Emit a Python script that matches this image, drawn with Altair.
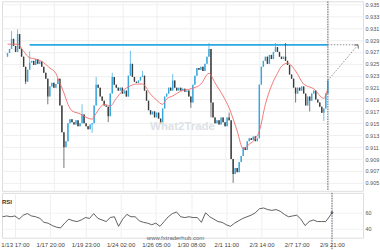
import altair as alt
import pandas as pd

# ---- data ----
closes = [
    0.9268, 0.9275, 0.9292, 0.9280, 0.9270, 0.9300, 0.9275, 0.9262, 0.9245, 0.9220,
    0.9240, 0.9252, 0.9255, 0.9248, 0.9258, 0.9250, 0.9254, 0.9245, 0.9235, 0.9225,
    0.9195, 0.9212, 0.9218, 0.9210, 0.9216, 0.9225, 0.9180, 0.9135, 0.9110, 0.9120,
    0.9150, 0.9157, 0.9152, 0.9148, 0.9155, 0.9145, 0.9150, 0.9165, 0.9150, 0.9145,
    0.9140, 0.9148, 0.9150, 0.9180, 0.9215, 0.9210, 0.9195, 0.9188, 0.9180, 0.9178,
    0.9162, 0.9200, 0.9228, 0.9215, 0.9210, 0.9205, 0.9210, 0.9200, 0.9205, 0.9195,
    0.9230, 0.9250, 0.9228, 0.9220, 0.9218, 0.9222, 0.9228, 0.9230, 0.9205, 0.9188,
    0.9172, 0.9165, 0.9170, 0.9160, 0.9168, 0.9158, 0.9150, 0.9175, 0.9195, 0.9200,
    0.9210, 0.9205, 0.9222, 0.9210, 0.9205, 0.9210, 0.9205, 0.9208, 0.9203, 0.9205,
    0.9195, 0.9185, 0.9215, 0.9230, 0.9243, 0.9240, 0.9245, 0.9238, 0.9250, 0.9262,
    0.9275, 0.9185, 0.9160, 0.9150, 0.9155, 0.9148, 0.9160, 0.9152, 0.9145, 0.9160,
    0.9155, 0.9090, 0.9065, 0.9075, 0.9068, 0.9085, 0.9095, 0.9110, 0.9105, 0.9120,
    0.9125, 0.9122, 0.9128, 0.9120, 0.9125, 0.9215, 0.9245, 0.9255, 0.9262, 0.9250,
    0.9265, 0.9258, 0.9270, 0.9278, 0.9270, 0.9262, 0.9258, 0.9262, 0.9255, 0.9248,
    0.9232, 0.9225, 0.9210, 0.9200, 0.9210, 0.9205, 0.9212, 0.9200, 0.9180, 0.9195,
    0.9188, 0.9200, 0.9205, 0.9190, 0.9185, 0.9178, 0.9168, 0.9175, 0.9200, 0.9222,
]
first_open = 0.9262

spike_idx = [2, 5, 9, 11, 20, 28, 37, 42, 44, 50, 52, 61, 67, 77, 82, 91, 100, 101, 110, 112, 133, 138, 143, 150, 157]
spike_val = [0.9305, 0.9308, 0.9216, 0.9271, 0.9182, 0.9075, 0.9182, 0.9134, 0.9228, 0.9152, 0.9235, 0.9272,
             0.9238, 0.9148, 0.9233, 0.9176, 0.9285, 0.9160, 0.9168, 0.9050, 0.9285, 0.9285, 0.9185, 0.9170, 0.9154]

ma_idx = [0, 5, 8, 11, 14, 17, 19, 21, 24, 25, 28, 30, 32, 36, 38, 42, 44, 48, 51, 54, 57, 61, 64, 67,
          71, 74, 77, 79, 82, 86, 91, 96, 100, 103, 107, 110, 114, 117, 120, 123, 125, 128, 131, 134,
          136, 139, 143, 147, 152, 157, 159]
ma_vals = [0.9283, 0.9283, 0.9271, 0.9260, 0.9258, 0.9254, 0.9249, 0.9243, 0.9234, 0.9226, 0.9201, 0.9182,
           0.9171, 0.9166, 0.9162, 0.9157, 0.9167, 0.9182, 0.9179, 0.9192, 0.9204, 0.9213, 0.9216, 0.9216,
           0.9199, 0.9189, 0.9182, 0.9191, 0.9196, 0.9204, 0.9208, 0.9216, 0.9234, 0.9218, 0.9196, 0.9176,
           0.9137, 0.9107, 0.9115, 0.9124, 0.9137, 0.9182, 0.9213, 0.9234, 0.9246, 0.9251, 0.9238, 0.9216,
           0.9208, 0.9192, 0.9209]

rsi_idx = [0, 2, 4, 6, 8, 10, 12, 14, 16, 18, 20, 22, 24, 26, 28, 30, 32, 34, 36, 38, 40, 42, 44, 46,
           48, 50, 52, 54, 56, 58, 60, 62, 64, 66, 68, 70, 72, 74, 76, 78, 80, 82, 84, 86, 88, 90, 92,
           94, 96, 98, 100, 102, 104, 106, 108, 110, 112, 114, 116, 118, 120, 122, 124, 126, 128, 130,
           132, 134, 136, 138, 140, 142, 144, 146, 148, 150, 152, 154, 156, 158, 159]
rsi_vals = [55, 56, 55, 56, 52, 57, 59, 56, 55, 53, 48, 47, 44, 42, 41, 47, 52, 50, 49, 51, 54, 53, 59, 53,
            51, 49, 54, 55, 43, 52, 58, 55, 55, 50, 48, 47, 45, 47, 43, 49, 55, 59, 61, 55, 54, 55, 54,
            54, 48, 60, 55, 52, 49, 48, 45, 43, 47, 50, 53, 55, 57, 60, 65, 66, 64, 63,
            64, 62, 58, 55, 56, 57, 52, 44, 49, 51, 49, 49, 49, 56, 60]

tick_idx = [6, 23, 40, 57, 74, 91, 108, 125, 142, 159]
tick_labels = ["1/13 17:00", "1/17 20:00", "1/19 23:00", "1/24 02:00", "1/26 05:00",
               "1/30 08:00", "2/1 11:00", "2/3 14:00", "2/7 17:00", "2/9 21:00"]
price_ticks = [0.905, 0.907, 0.909, 0.911, 0.913, 0.915, 0.917, 0.919, 0.921, 0.923,
               0.925, 0.927, 0.929, 0.931, 0.933, 0.935]
rsi_ticks = [40, 60]
resistance = 0.9282
res_start = 11
target_idx = 174

# ---- frames ----
opens = [first_open] + closes[:-1]
highs = [max(o, c) for o, c in zip(opens, closes)]
lows = [min(o, c) for o, c in zip(opens, closes)]
for k, v in zip(spike_idx, spike_val):
    highs[k] = max(highs[k], v)
    lows[k] = min(lows[k], v)
candles = pd.DataFrame({
    "i": list(range(len(closes))), "open": opens, "close": closes,
    "high": highs, "low": lows,
    "up": [c >= o for o, c in zip(opens, closes)],
})
ma_df = pd.DataFrame({"i": ma_idx, "ma": ma_vals})
rsi_df = pd.DataFrame({"i": rsi_idx, "rsi": rsi_vals})
last_i = len(closes) - 1
res_df = pd.DataFrame({"i": [res_start], "i2": [last_i], "p": [resistance]})
ext_df = pd.DataFrame({"i": [last_i], "i2": [target_idx], "p": [resistance]})
arrow_df = pd.DataFrame({"i": [last_i, target_idx], "p": [closes[-1], resistance]})
head_df = pd.DataFrame({"i": [target_idx], "p": [resistance]})
vline_df = pd.DataFrame({"i": [last_i]})
one = pd.DataFrame({"a": [0]})

W = 362
x_scale = alt.Scale(domain=[-0.26, 174.0], nice=False, zero=False)
label_expr = "[" + ",".join("'%s'" % t for t in tick_labels) + "][round((datum.value - 6) / 17)]"

x_axis_p = alt.Axis(values=tick_idx, tickCount=len(tick_idx), labels=False, ticks=False, domain=False,
                    grid=True, gridColor="#efefef")
y_scale = alt.Scale(domain=[0.90366, 0.9355], nice=False, zero=False)
y_axis = alt.Axis(orient="right", values=price_ticks, tickCount=len(price_ticks), format=".3f",
                  ticks=False, domain=False, labelFontSize=5.5, labelColor="#555", labelPadding=2,
                  grid=True, gridColor="#efefef", labelFlush=False, labelOverlap=False, labelBound=False)

up_color = "#39a6dc"
down_color = "#3c3c3c"
col = alt.condition("datum.up", alt.value(up_color), alt.value(down_color))

res_line = alt.Chart(res_df).mark_rule(color="#2aa9e2", strokeWidth=1.8).encode(
    x=alt.X("i:Q", scale=x_scale, axis=x_axis_p, title=None), x2="i2:Q",
    y=alt.Y("p:Q", scale=y_scale, axis=y_axis, title=None))
wicks = alt.Chart(candles).mark_rule(strokeWidth=0.7).encode(
    x="i:Q", y="low:Q", y2="high:Q", color=col)
bodies = alt.Chart(candles).mark_bar(width=1.4).encode(
    x="i:Q", y="open:Q", y2="close:Q", color=col)
ma_line = alt.Chart(ma_df).mark_line(color="#f26a6a", strokeWidth=0.9, interpolate="monotone").encode(
    x="i:Q", y="ma:Q")
ext_line = alt.Chart(ext_df).mark_rule(color="#777", strokeWidth=0.8, strokeDash=[1.5, 1.5]).encode(
    x="i:Q", x2="i2:Q", y="p:Q")
arrow = alt.Chart(arrow_df).mark_line(color="#777", strokeWidth=0.8, strokeDash=[1.5, 1.5]).encode(
    x="i:Q", y="p:Q")
head = alt.Chart(head_df).mark_point(shape="M-1,1L0,0L1,1", size=30, angle=41, color="#666",
                                     filled=False, strokeWidth=0.9, opacity=1).encode(x="i:Q", y="p:Q")
vline_p = alt.Chart(vline_df).mark_rule(color="#4a5a66", strokeWidth=0.9, strokeDash=[1.5, 1]).encode(
    x="i:Q", y=alt.value(0), y2=alt.value(190))
wm = alt.Chart(one).mark_text(text="What2Trade", fontSize=11.5, fontWeight="bold", color="#dde2e7",
                              align="center", baseline="middle").encode(x=alt.value(181), y=alt.value(126))

price = alt.layer(res_line, wicks, bodies, ma_line, vline_p, ext_line, arrow, head, wm).properties(
    width=W, height=190)

x_rsi = alt.X("i:Q", scale=x_scale, title=None,
              axis=alt.Axis(values=tick_idx, tickCount=len(tick_idx), labelExpr=label_expr, ticks=False,
                            domain=False, grid=True, gridColor="#efefef", labelFontSize=6,
                            labelColor="#444", labelPadding=4, labelOverlap=False, labelFlush=False,
                            labelBound=False))
rsi_scale = alt.Scale(domain=[28.75, 85], nice=False, zero=False)
rsi_axis = alt.Axis(orient="right", values=rsi_ticks, tickCount=len(rsi_ticks), ticks=False, domain=False,
                    labelFontSize=5.5, labelColor="#555", labelPadding=2, grid=True, gridColor="#f3f3f3",
                    labelOverlap=False)
rsi_line = alt.Chart(rsi_df).mark_line(color="#3a3a3a", strokeWidth=0.8).encode(
    x=x_rsi, y=alt.Y("rsi:Q", scale=rsi_scale, axis=rsi_axis, title=None))
rsi_dot = alt.Chart(rsi_df.tail(1)).mark_point(filled=True, size=8, color="#3a3a3a").encode(
    x="i:Q", y="rsi:Q")
vline_r = alt.Chart(vline_df).mark_rule(color="#4a5a66", strokeWidth=0.9, strokeDash=[1.5, 1]).encode(
    x="i:Q", y=alt.value(0), y2=alt.value(60))
rsi_lbl = alt.Chart(one).mark_text(text="RSI", fontSize=6, fontWeight="bold", color="#333",
                                   align="left", baseline="middle").encode(x=alt.value(0), y=alt.value(9))
site = alt.Chart(one).mark_text(text="www.fxtraderhub.com", fontSize=6, color="#666",
                                align="center", baseline="middle").encode(x=alt.value(174), y=alt.value(45))

rsi = alt.layer(rsi_line, rsi_dot, vline_r, rsi_lbl, site).properties(width=W, height=45)

chart = alt.vconcat(price, rsi, spacing=0).properties(padding=0).configure_view(
    stroke=None).configure(font="Liberation Sans").configure_axis(labelOverlap=False)

chart.save("out.html", embed_options={"renderer": "svg", "actions": False})
